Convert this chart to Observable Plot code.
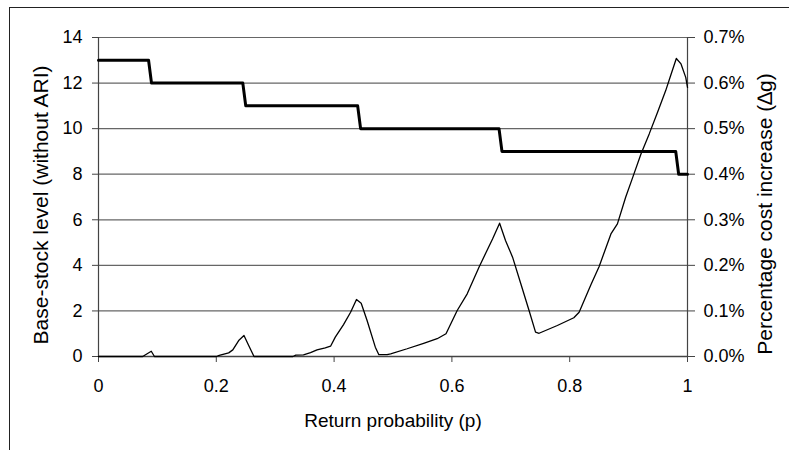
<!DOCTYPE html>
<html>
<head>
<meta charset="utf-8">
<script src="https://cdn.jsdelivr.net/npm/d3@7"></script>
<script src="https://cdn.jsdelivr.net/npm/@observablehq/plot@0.6"></script>
<style>
  html, body { margin: 0; padding: 0; background: #fff; }
  #wrap { position: relative; width: 789px; height: 450px; overflow: hidden; }
  #wrap svg { position: absolute; left: 0; top: 0; }
  #border { position: absolute; left: 9px; top: 7px; width: 800px; height: 460px;
            border-top: 1px solid #222; border-left: 1px solid #222; pointer-events: none; }
</style>
</head>
<body>
<div id="wrap"><div id="border"></div></div>
<script>
// Base-stock level (thick step line)
const pBase = [0, 0.085, 0.09, 0.245, 0.25, 0.44, 0.445, 0.68, 0.685, 0.98, 0.985, 1];
const baseStock = [13, 13, 12, 12, 11, 11, 10, 10, 9, 9, 8, 8];

// Percentage cost increase (thin line), values in %
const pCost = [0, 0.075, 0.0896, 0.095, 0.2, 0.205, 0.221, 0.228, 0.238, 0.247, 0.255, 0.264,
  0.33, 0.335, 0.348, 0.36, 0.371, 0.385, 0.394, 0.402, 0.416, 0.428, 0.438, 0.446, 0.456, 0.47,
  0.476, 0.49, 0.496, 0.524, 0.552, 0.575, 0.59, 0.609, 0.626, 0.646, 0.669, 0.681, 0.691, 0.703,
  0.717, 0.731, 0.742, 0.748, 0.779, 0.807, 0.816, 0.836, 0.85, 0.87, 0.881, 0.895, 0.907, 0.921,
  0.935, 0.949, 0.963, 0.971, 0.981, 0.989, 0.997, 1];
const costPct = [0, 0, 0.0115, 0, 0, 0.0025, 0.008, 0.0145, 0.035, 0.046, 0.024, 0,
  0, 0.003, 0.0035, 0.0085, 0.0145, 0.019, 0.0225, 0.0425, 0.07, 0.097, 0.125, 0.117, 0.079, 0.0205,
  0.004, 0.004, 0.006, 0.017, 0.029, 0.039, 0.05, 0.101, 0.1375, 0.196, 0.258, 0.2925, 0.2545, 0.218,
  0.1595, 0.101, 0.0535, 0.051, 0.068, 0.085, 0.097, 0.1575, 0.1975, 0.269, 0.291, 0.3495, 0.393, 0.4445,
  0.4885, 0.5355, 0.5835, 0.615, 0.654, 0.642, 0.6125, 0.5905];

const xTicks = [0, 0.2, 0.4, 0.6, 0.8, 1];
const xTickLabels = ["0", "0.2", "0.4", "0.6", "0.8", "1"];
const yTicks = [0, 2, 4, 6, 8, 10, 12, 14];
const rightTickLabels = ["0.0%", "0.1%", "0.2%", "0.3%", "0.4%", "0.5%", "0.6%", "0.7%"];

const xTitle = "Return probability (p)";
const yTitleLeft = "Base-stock level (without ARI)";
const yTitleRight = "Percentage cost increase (\u2206g)";

// right axis: 0.7% corresponds to 14 on the left axis
const pctToLeft = 14 / 0.7;

const baseData = pBase.map((p, i) => ({p, v: baseStock[i]}));
const costData = pCost.map((p, i) => ({p, v: costPct[i] * pctToLeft}));

const chart = Plot.plot({
  width: 789,
  height: 450,
  marginLeft: 98,
  marginRight: 102,
  marginTop: 37,
  marginBottom: 94,
  style: {fontFamily: "'Liberation Sans', Arial, sans-serif", fontSize: "18px", background: "transparent", color: "#000"},
  x: {domain: [0, 1]},
  y: {domain: [0, 14]},
  marks: [
    Plot.ruleY(yTicks, {stroke: "#666", strokeWidth: 1.2}),
    Plot.ruleY([0], {stroke: "#444", strokeWidth: 1.5}),
    Plot.ruleX([0, 1], {stroke: "#444", strokeWidth: 1.2}),
    Plot.axisX({ticks: xTicks, tickFormat: (d, i) => xTickLabels[i], tickSize: 6, tickPadding: 17, label: null, stroke: "#444", fontSize: 18}),
    Plot.axisY({ticks: yTicks, tickSize: 6, tickPadding: 10, label: null, stroke: "#444", fontSize: 18}),
    Plot.axisY({anchor: "right", ticks: yTicks, tickFormat: (d, i) => rightTickLabels[i], tickSize: 7, tickPadding: 9, label: null, stroke: "#444", fontSize: 18}),
    Plot.line(costData, {x: "p", y: "v", stroke: "#000", strokeWidth: 1.3}),
    Plot.line(baseData, {x: "p", y: "v", stroke: "#000", strokeWidth: 3}),
    Plot.text([xTitle], {frameAnchor: "bottom", dy: 64, fontSize: 19, textAnchor: "middle", lineAnchor: "middle"}),
    Plot.text([yTitleLeft], {frameAnchor: "left", rotate: -90, dx: -57, dy: 8, fontSize: 21, textAnchor: "middle", lineAnchor: "middle"}),
    Plot.text([yTitleRight], {frameAnchor: "right", rotate: -90, dx: 78, dy: 17, fontSize: 21, textAnchor: "middle", lineAnchor: "middle"})
  ]
});
document.getElementById("wrap").appendChild(chart);
</script>
</body>
</html>
